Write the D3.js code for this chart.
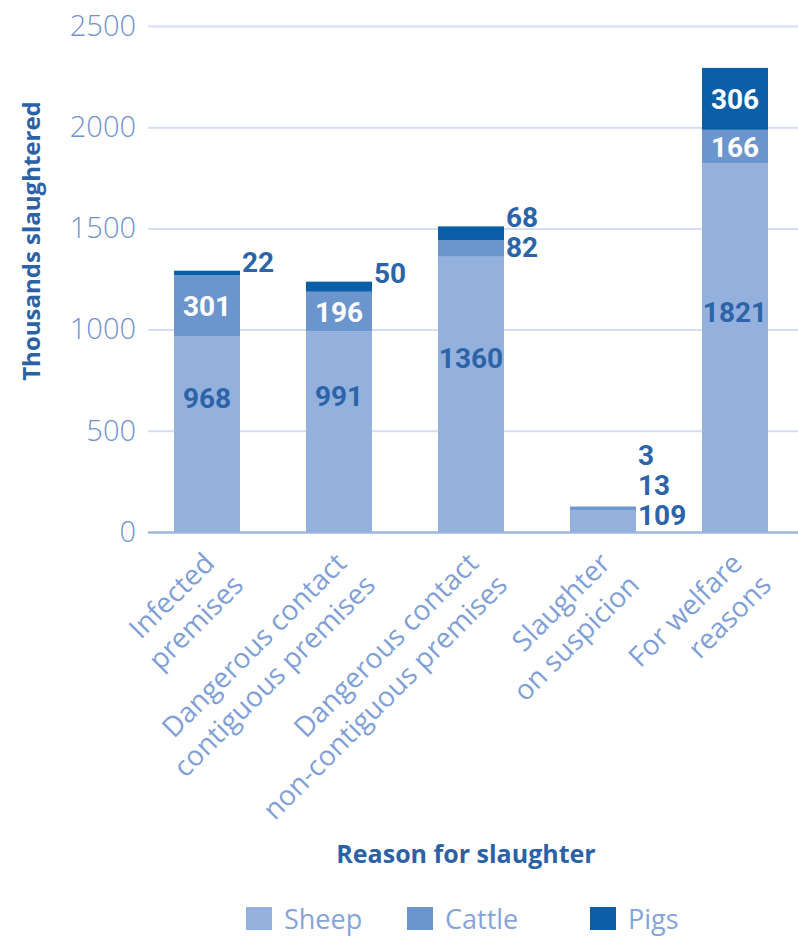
<!DOCTYPE html>
<html>
<head>
<meta charset="utf-8">
<script src="https://cdn.jsdelivr.net/npm/d3@7"></script>
<style>
  html, body { margin: 0; padding: 0; background: #fff; }
  svg { display: block; }
</style>
</head>
<body>
<svg id="chart" width="798" height="940"></svg>
<script>
// Animals slaughtered (thousands) by reason for slaughter
const categories = [
  "Infected\npremises",
  "Dangerous contact\ncontiguous premises",
  "Dangerous contact\nnon-contiguous premises",
  "Slaughter\non suspicion",
  "For welfare\nreasons"
];
const sheep  = [968, 991, 1360, 109, 1821];
const cattle = [301, 196, 82, 13, 166];
const pigs   = [22, 50, 68, 3, 306];
const seriesNames = ["Sheep", "Cattle", "Pigs"];
const yTicks = [0, 500, 1000, 1500, 2000, 2500];

const colors = { Sheep: "#94b1dd", Cattle: "#6b95cd", Pigs: "#0b5ea8" };
const darkText = "#2c64aa";
const lightText = "#7093cf";

const svg = d3.select("#chart");
const W = 798, H = 940;

const rows = categories.map((c, i) => ({
  category: c, Sheep: sheep[i], Cattle: cattle[i], Pigs: pigs[i]
}));

const x = d3.scaleBand()
  .domain(categories)
  .range([141, 801])
  .paddingInner(0.5)
  .paddingOuter(0.25);

const y = d3.scaleLinear().domain([0, 2500]).range([532, 26]);

// gridlines + tick labels
const yAxis = d3.axisLeft(y)
  .tickValues(yTicks)
  .tickSize(-(W - 148))
  .tickPadding(12)
  .tickFormat(d3.format("d"));

const gy = svg.append("g")
  .attr("transform", "translate(148,0)")
  .call(yAxis);
gy.select(".domain").remove();
gy.selectAll(".tick line")
  .attr("stroke", d => d === 0 ? "#9fb5de" : "#d3def3")
  .attr("stroke-width", d => d === 0 ? 2.5 : 2);
gy.selectAll(".tick text")
  .attr("fill", lightText)
  .style("font-family", "'Open Sans', 'Noto Sans', sans-serif")
  .style("font-weight", 300)
  .style("font-size", "29px");

// stacked bars
const stack = d3.stack().keys(seriesNames);
const stacked = stack(rows);

const layers = svg.append("g").selectAll("g")
  .data(stacked)
  .join("g")
  .attr("fill", d => colors[d.key]);

layers.selectAll("rect")
  .data(d => d.map(s => ({ s, key: d.key })))
  .join("rect")
  .attr("x", d => x(d.s.data.category))
  .attr("width", x.bandwidth())
  .attr("y", d => y(d.s[1]))
  .attr("height", d => y(d.s[0]) - y(d.s[1]));

// value labels
const labelFont = "Roboto, 'Liberation Sans', sans-serif";
const labels = svg.append("g")
  .style("font-family", labelFont)
  .style("font-weight", 700)
  .style("font-size", "28px");

const minInside = 30;   // px: segments shorter than this get an outside label
const outsideGap = 30;  // px between stacked outside labels

categories.forEach((c, i) => {
  const segs = stacked.map(layer => ({
    key: layer.key, v: layer[i][1] - layer[i][0], y0: layer[i][0], y1: layer[i][1]
  }));
  const cx = x(c) + x.bandwidth() / 2;
  const outside = [];
  segs.forEach(s => {
    const h = y(s.y0) - y(s.y1);
    if (h >= minInside) {
      const isSheep = s.key === "Sheep";
      const cy = isSheep ? y((s.y0 + s.y1) / 2) - 36 : y((s.y0 + s.y1) / 2);
      labels.append("text")
        .attr("x", cx)
        .attr("y", cy)
        .attr("dy", "0.36em")
        .attr("text-anchor", "middle")
        .attr("fill", isSheep ? darkText : "#ffffff")
        .text(s.v);
    } else {
      outside.push(s);
    }
  });
  // outside labels listed top-down, stacked right of the bar
  outside.reverse();
  const n = outside.length;
  if (n) {
    const total = segs[segs.length - 1].y1;
    const b0 = Math.min(y(total) + 1, y(0) - 7 - (n - 1) * outsideGap);
    outside.forEach((s, k) => {
      labels.append("text")
        .attr("x", x(c) + x.bandwidth() + 2)
        .attr("y", b0 + k * outsideGap)
        .attr("text-anchor", "start")
        .attr("fill", darkText)
        .text(s.v);
    });
  }
});

// rotated category labels, right-aligned at each bar
const catFont = "'Open Sans', 'Noto Sans', sans-serif";
const catG = svg.append("g")
  .style("font-family", catFont)
  .style("font-size", "28px")
  .attr("fill", "#7f9fd8");

categories.forEach(c => {
  const lines = c.split("\n");
  const cx = x(c) + x.bandwidth() / 2;
  const g = catG.append("g")
    .attr("transform", `translate(${cx + 9},${565}) rotate(-45)`);
  const t = g.append("text").attr("text-anchor", "end");
  lines.forEach((ln, k) =>
    t.append("tspan").attr("x", k * 5).attr("y", k * 36).text(ln));
});

// axis titles
svg.append("text")
  .attr("transform", "translate(40,241) rotate(-90)")
  .attr("text-anchor", "middle")
  .attr("fill", "#2b62a6")
  .style("font-family", catFont)
  .style("font-weight", 700)
  .style("font-size", "24px")
  .text("Thousands slaughtered");

svg.append("text")
  .attr("x", 466)
  .attr("y", 863)
  .attr("text-anchor", "middle")
  .attr("fill", "#2b62a6")
  .style("font-family", catFont)
  .style("font-weight", 700)
  .style("font-size", "25px")
  .text("Reason for slaughter");

// legend
const legendX = [246, 407, 590];
const legend = svg.append("g")
  .selectAll("g")
  .data(seriesNames)
  .join("g")
  .attr("transform", (d, i) => `translate(${legendX[i]},907)`);
legend.append("rect")
  .attr("width", 26).attr("height", 23)
  .attr("fill", d => colors[d]);
legend.append("text")
  .attr("x", 38).attr("y", 22)
  .attr("fill", "#86a4da")
  .style("font-family", catFont)
  .style("font-size", "27px")
  .text(d => d);
</script>
</body>
</html>
